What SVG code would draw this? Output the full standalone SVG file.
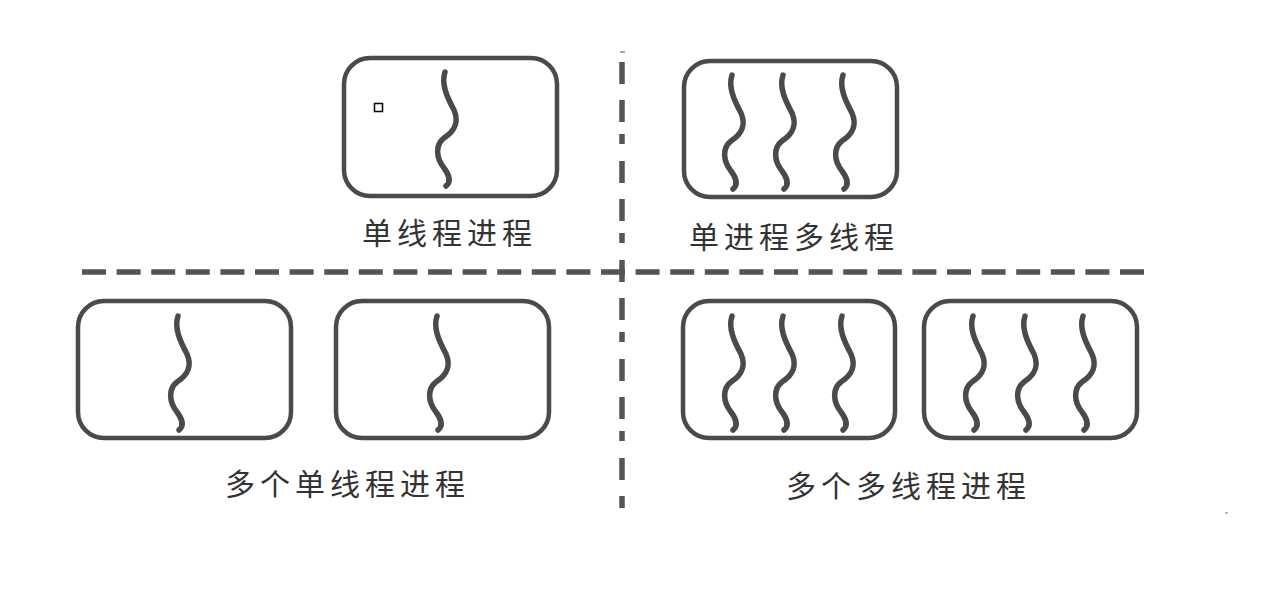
<svg xmlns="http://www.w3.org/2000/svg" xmlns:xlink="http://www.w3.org/1999/xlink" width="1280" height="589" viewBox="0 0 1280 589">
<style>
.box{fill:#fff;stroke:#4a4a4a;stroke-width:4.5}
.thr{fill:none;stroke:#4a4a4a;stroke-width:5.5;stroke-linecap:round}
.lbl{font-family:"Noto Sans CJK SC","Noto Sans",sans-serif;font-size:30px;fill:#333;letter-spacing:5px}
.dash{stroke:#555;stroke-width:5.5;fill:none}
</style>
<defs>
<path id="t" class="thr" d="M0,0 C-4,12 2,25 9,38 C15,52 8,60 -1,66 C-10,73 -9,86 -1,96 C5,104 6,110 1,114"/>
</defs>
<rect width="1280" height="589" fill="#fff"/>
<g id="connectors">
<line class="dash" x1="82" y1="272" x2="1146" y2="272" stroke-dasharray="24 10.6"/>
<line class="dash" x1="622" y1="62" x2="622" y2="508" stroke-dasharray="22 16 22 12 10 17"/>
<line x1="620" y1="52" x2="625" y2="52" stroke="#888" stroke-width="1.5"/>
</g>
<g id="single-thread-process">
<rect class="box" x="344" y="58" width="213" height="138" rx="26"/>
<use xlink:href="#t" x="445" y="72"/>
<rect x="374.5" y="103.5" width="8" height="8" fill="#fff" stroke="#000" stroke-width="1.5"/>
<text class="lbl" x="362" y="244">单线程进程</text>
</g>
<g id="single-process-multi-thread">
<rect class="box" x="684" y="61" width="213" height="136" rx="26"/>
<use xlink:href="#t" x="732" y="75"/>
<use xlink:href="#t" x="783" y="75"/>
<use xlink:href="#t" x="843" y="75"/>
<text class="lbl" x="689" y="248">单进程多线程</text>
</g>
<g id="multi-single-thread-processes">
<rect class="box" x="78" y="301" width="213" height="137" rx="26"/>
<use xlink:href="#t" x="178" y="316"/>
<rect class="box" x="336" y="301" width="213" height="137" rx="26"/>
<use xlink:href="#t" x="437" y="316"/>
<text class="lbl" x="225" y="495">多个单线程进程</text>
</g>
<g id="multi-multi-thread-processes">
<rect class="box" x="683" y="301" width="212" height="137" rx="26"/>
<use xlink:href="#t" x="732" y="316"/>
<use xlink:href="#t" x="783" y="316"/>
<use xlink:href="#t" x="842" y="316"/>
<rect class="box" x="924" y="301" width="213" height="137" rx="26"/>
<use xlink:href="#t" x="973" y="316"/>
<use xlink:href="#t" x="1025" y="316"/>
<use xlink:href="#t" x="1083" y="316"/>
<text class="lbl" x="786" y="497">多个多线程进程</text>
</g>
<rect x="1225" y="512" width="3" height="2" fill="#bbb"/>
</svg>
